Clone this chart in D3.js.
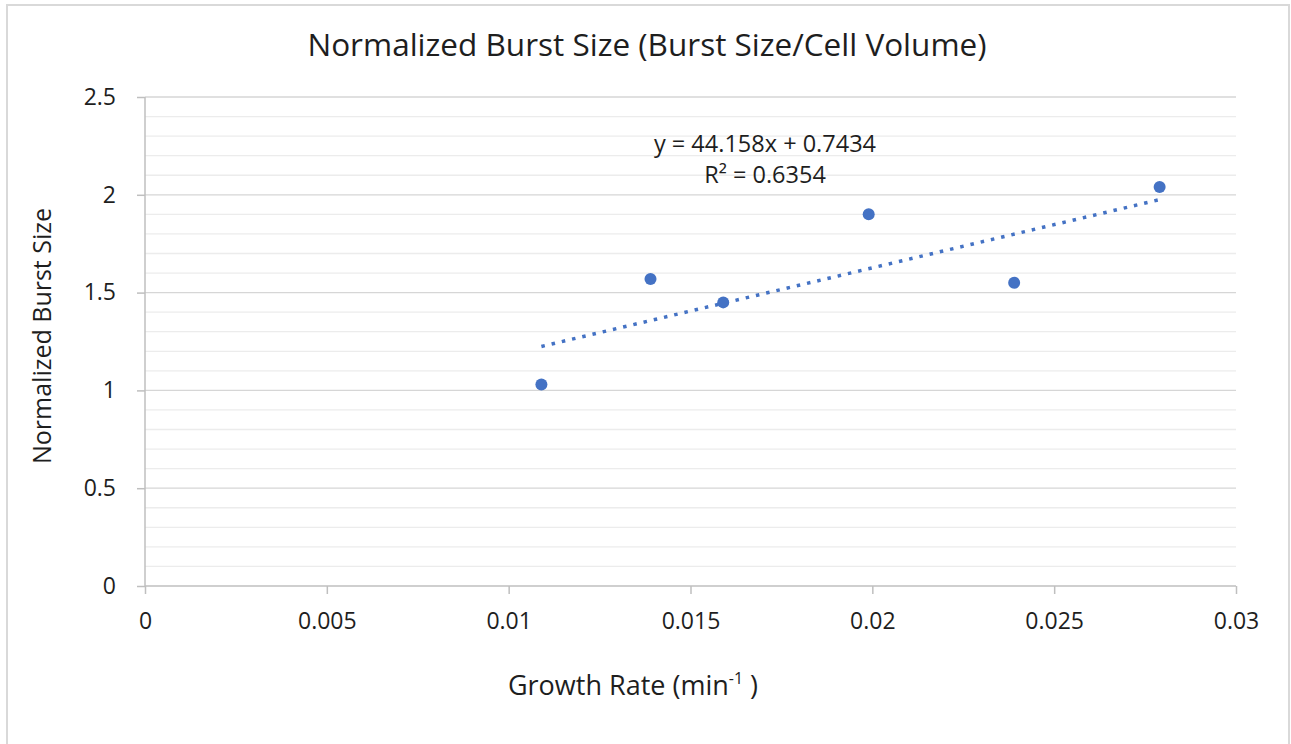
<!DOCTYPE html>
<html><head><meta charset="utf-8">
<script src="https://cdn.jsdelivr.net/npm/d3@7"></script>
<style>body{margin:0;background:#fff}svg{display:block}text{font-family:"Open Sans",sans-serif;fill:#1e1e1e}</style>
</head><body><svg id="c" width="1291" height="744"></svg>
<script>
const growthRate = [0.0109, 0.0139, 0.0159, 0.0199, 0.0239, 0.0279];
const burstSize = [1.03, 1.57, 1.45, 1.90, 1.55, 2.04];
const xTicks = [0, 0.005, 0.01, 0.015, 0.02, 0.025, 0.03];
const xTickLabels = ["0", "0.005", "0.01", "0.015", "0.02", "0.025", "0.03"];
const yTicks = [0, 0.5, 1, 1.5, 2, 2.5];
const yTickLabels = ["0", "0.5", "1", "1.5", "2", "2.5"];
const trendCoef = [44.158, 0.7434]; // slope, intercept
const trendLabels = ["y = 44.158x + 0.7434", "R² = 0.6354"];
const titleText = "Normalized Burst Size (Burst Size/Cell Volume)";

const svg = d3.select("#c");
svg.append("rect").attr("x",7).attr("y",5).attr("width",1282).attr("height",745)
  .attr("fill","#fff").attr("stroke","#d9d9d9").attr("stroke-width",2);

const x = d3.scaleLinear().domain([0,0.03]).range([145,1236]);
const y = d3.scaleLinear().domain([0,2.5]).range([586,97]);

// minor gridlines
const minor = d3.range(0,2.5001,0.1).filter(v=>Math.abs(v*2-Math.round(v*2))>1e-6);
svg.append("g").selectAll("line").data(minor).join("line")
  .attr("x1",x(0)).attr("x2",x(0.03)).attr("y1",d=>y(d)).attr("y2",d=>y(d))
  .attr("stroke","#ececec").attr("stroke-width",1.3);
// major gridlines
svg.append("g").selectAll("line").data(yTicks.slice(1)).join("line")
  .attr("x1",x(0)).attr("x2",x(0.03)).attr("y1",d=>y(d)).attr("y2",d=>y(d))
  .attr("stroke","#d6d6d6").attr("stroke-width",1.3);

// axes
const yAxis = svg.append("g").attr("transform",`translate(${x(0)},0)`)
  .call(d3.axisLeft(y).tickValues(yTicks).tickFormat((d,i)=>yTickLabels[i]).tickSize(8).tickPadding(21));
const xAxis = svg.append("g").attr("transform",`translate(0,${y(0)})`)
  .call(d3.axisBottom(x).tickValues(xTicks).tickFormat((d,i)=>xTickLabels[i]).tickSize(8).tickPadding(19));
[yAxis,xAxis].forEach(g=>{
  g.select(".domain").attr("stroke","#bfbfbf").attr("stroke-width",1.5);
  g.selectAll(".tick line").attr("stroke","#bfbfbf").attr("stroke-width",1.5);
  g.selectAll(".tick text").style("font-family","'Open Sans',sans-serif").style("font-size","23px").attr("fill","#1e1e1e");
});
yAxis.select(".domain").attr("d",`M0,${y(2.5)}V${y(0)}`);
xAxis.select(".domain").attr("d",`M${x(0)},0H${x(0.03)}`);

// trendline
const tx = [d3.min(growthRate), d3.max(growthRate)];
svg.append("line")
  .attr("x1",x(tx[0])).attr("y1",y(trendCoef[0]*tx[0]+trendCoef[1]))
  .attr("x2",x(tx[1])).attr("y2",y(trendCoef[0]*tx[1]+trendCoef[1]))
  .attr("stroke","#4472c4").attr("stroke-width",3.5).attr("stroke-dasharray","3.5,7");

// points
svg.append("g").selectAll("circle").data(growthRate).join("circle")
  .attr("cx",d=>x(d)).attr("cy",(d,i)=>y(burstSize[i])).attr("r",6)
  .attr("fill","#4472c4");

// trend labels
svg.append("text").attr("x",765).attr("y",152).attr("text-anchor","middle")
  .style("font-size","23.5px").text(trendLabels[0]);
svg.append("text").attr("x",765).attr("y",183).attr("text-anchor","middle")
  .style("font-size","23.5px").text(trendLabels[1]);

// title
svg.append("text").attr("x",647).attr("y",56).attr("text-anchor","middle")
  .style("font-size","31.5px").text(titleText);

// axis titles
svg.append("text").attr("transform","translate(51,336) rotate(-90)").attr("text-anchor","middle")
  .style("font-size","25px").text("Normalized Burst Size");
const xt = svg.append("text").attr("x",633).attr("y",695).attr("text-anchor","middle").style("font-size","27px");
xt.append("tspan").text("Growth Rate (min");
xt.append("tspan").attr("dy",-11).style("font-size","16px").text("-1");
xt.append("tspan").attr("dy",11).text(" )");
</script></body></html>
